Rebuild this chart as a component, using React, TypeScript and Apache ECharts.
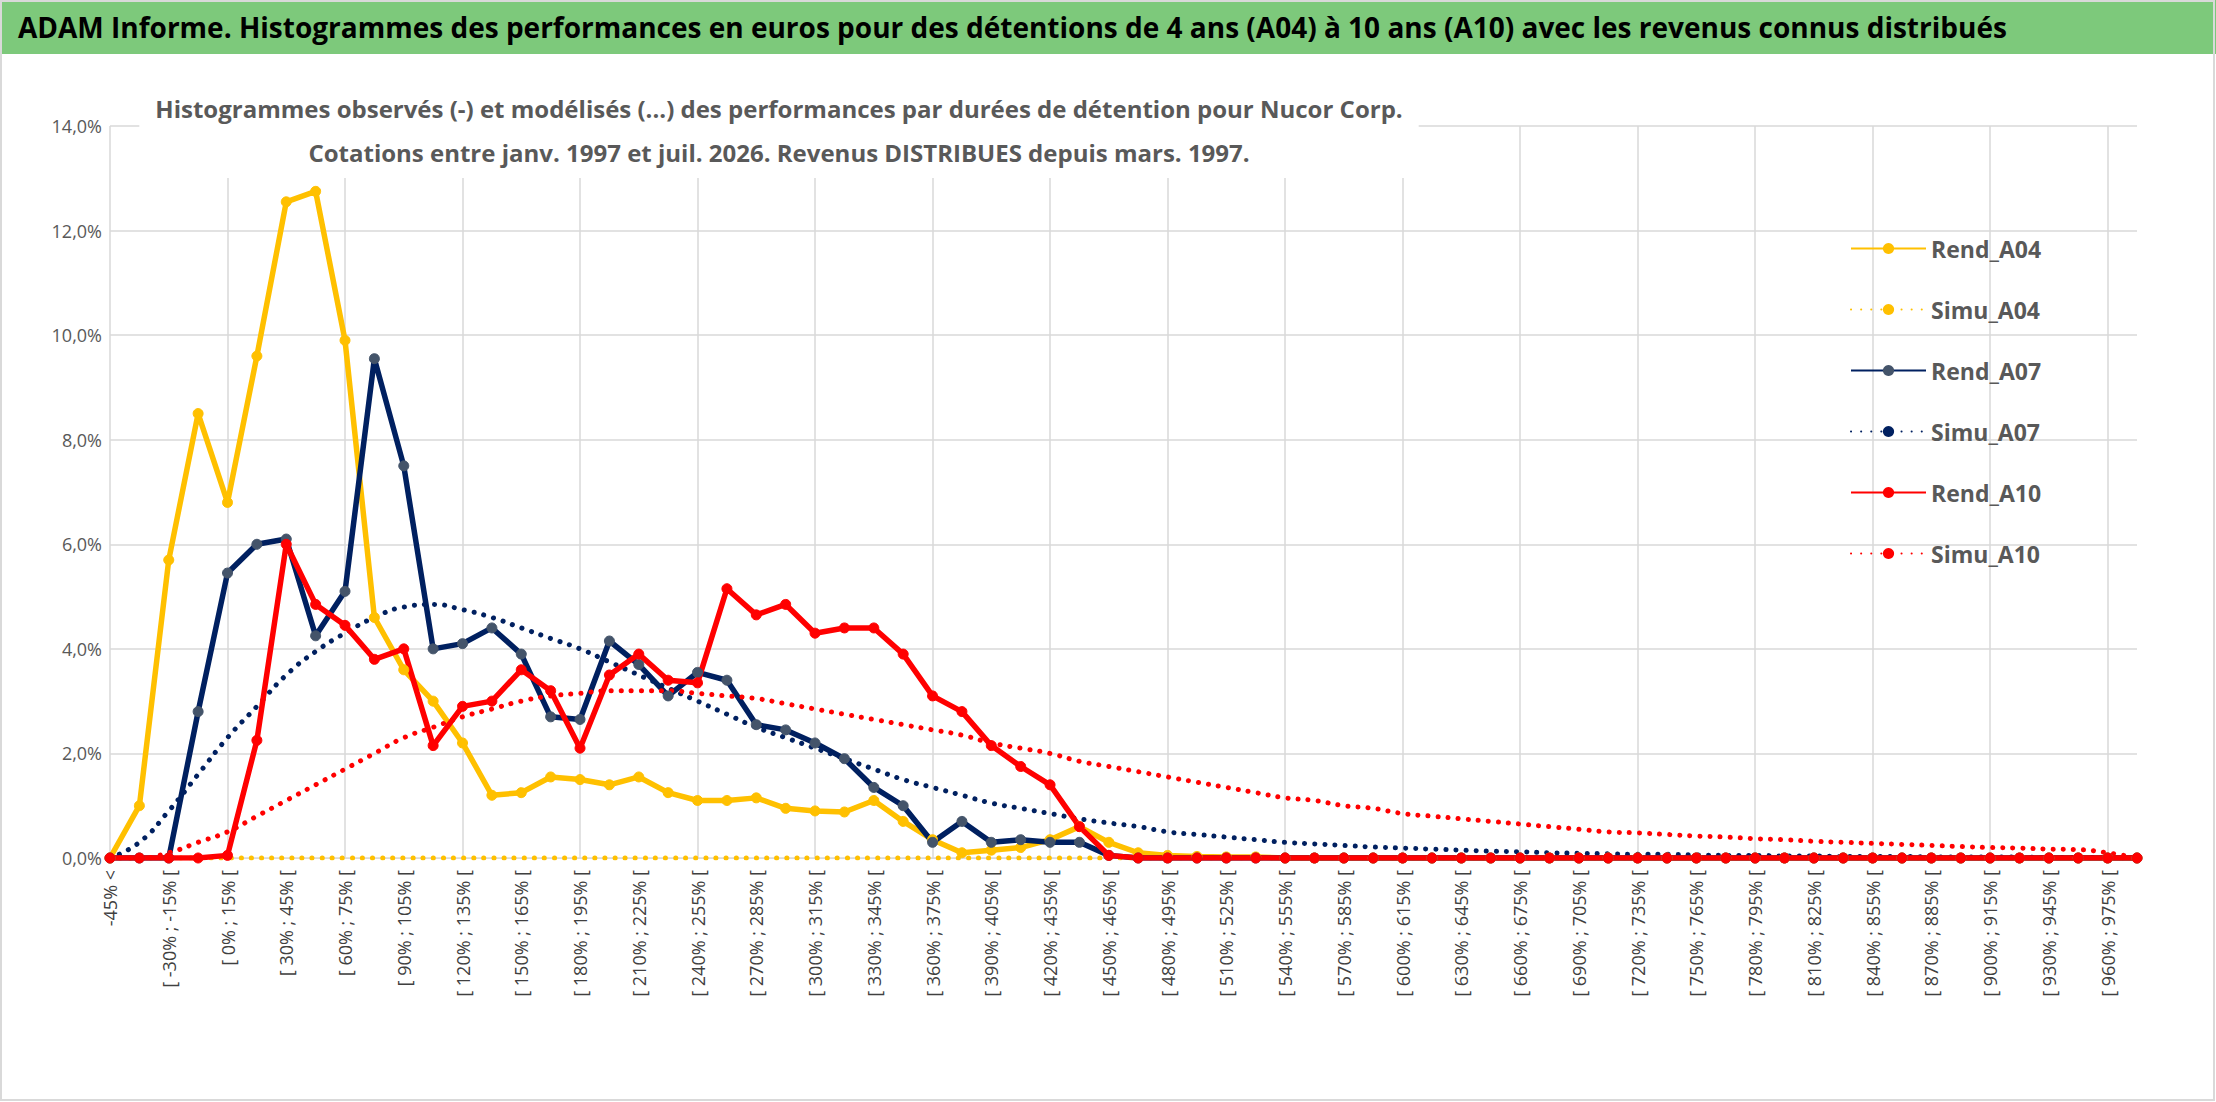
import React, { useEffect, useRef } from 'react';
import * as echarts from 'echarts';

// Catégories : "-45% <" puis tranches de 15 %
const categories: string[] = ['-45% <'];
for (let a = -45; a <= 975; a += 15) categories.push(`[ ${a}% ; ${a + 15}% [`);

// Valeurs (en %)
const rendA04 = [0, 1.0, 5.7, 8.5, 6.8, 9.6, 12.55, 12.75, 9.9, 4.6, 3.6, 3.0, 2.2, 1.2, 1.25, 1.55, 1.5, 1.4, 1.55, 1.25,
  1.1, 1.1, 1.15, 0.95, 0.9, 0.88, 1.1, 0.7, 0.35, 0.1, 0.15, 0.2, 0.35, 0.6, 0.3, 0.1, 0.05, 0.03, 0.02, 0.02,
  0, 0, 0, 0, 0, 0, 0, 0, 0, 0, 0, 0, 0, 0, 0, 0, 0, 0, 0, 0, 0, 0, 0, 0, 0, 0, 0, 0, 0, 0];
const simuA04 = [0, 0, 0, 0, 0, 0, 0, 0, 0, 0, 0, 0, 0, 0, 0, 0, 0, 0, 0, 0, 0, 0, 0, 0, 0, 0, 0, 0, 0, 0, 0, 0, 0, 0,
  0, 0, 0, 0, 0, 0, 0, 0, 0, 0, 0, 0, 0, 0, 0, 0, 0, 0, 0, 0, 0, 0, 0, 0, 0, 0, 0, 0, 0, 0, 0, 0, 0, 0, 0, 0];
const rendA07 = [0, 0, 0, 2.8, 5.45, 6.0, 6.1, 4.25, 5.1, 9.55, 7.5, 4.0, 4.1, 4.4, 3.9, 2.7, 2.65, 4.15, 3.7, 3.1,
  3.55, 3.4, 2.55, 2.45, 2.2, 1.9, 1.35, 1.0, 0.3, 0.7, 0.3, 0.35, 0.3, 0.3, 0.05, 0, 0, 0, 0, 0,
  0, 0, 0, 0, 0, 0, 0, 0, 0, 0, 0, 0, 0, 0, 0, 0, 0, 0, 0, 0, 0, 0, 0, 0, 0, 0, 0, 0, 0, 0];
const simuA07 = [0, 0.3, 0.9, 1.6, 2.3, 2.9, 3.5, 3.95, 4.3, 4.6, 4.8, 4.85, 4.75, 4.6, 4.4, 4.2, 4.0, 3.75, 3.5, 3.25,
  3.0, 2.75, 2.5, 2.3, 2.1, 1.9, 1.7, 1.5, 1.35, 1.2, 1.05, 0.95, 0.85, 0.75, 0.67, 0.6, 0.5, 0.45, 0.4, 0.35,
  0.3, 0.27, 0.24, 0.21, 0.19, 0.17, 0.15, 0.13, 0.12, 0.1, 0.09, 0.08, 0.07, 0.07, 0.06, 0.05, 0.05, 0.04, 0.04, 0.03,
  0.03, 0.03, 0.02, 0.02, 0.02, 0.02, 0.01, 0.01, 0.01, 0];
const rendA10 = [0, 0, 0, 0, 0.05, 2.25, 6.0, 4.85, 4.45, 3.8, 4.0, 2.15, 2.9, 3.0, 3.6, 3.2, 2.1, 3.5, 3.9, 3.4,
  3.35, 5.15, 4.65, 4.85, 4.3, 4.4, 4.4, 3.9, 3.1, 2.8, 2.15, 1.75, 1.4, 0.6, 0.05, 0, 0, 0, 0, 0,
  0, 0, 0, 0, 0, 0, 0, 0, 0, 0, 0, 0, 0, 0, 0, 0, 0, 0, 0, 0, 0, 0, 0, 0, 0, 0, 0, 0, 0, 0];
const simuA10 = [0, 0, 0.1, 0.3, 0.5, 0.8, 1.1, 1.4, 1.7, 2.0, 2.3, 2.5, 2.7, 2.85, 3.0, 3.1, 3.15, 3.2, 3.2, 3.2,
  3.15, 3.1, 3.05, 2.95, 2.85, 2.75, 2.65, 2.55, 2.45, 2.35, 2.2, 2.1, 2.0, 1.85, 1.75, 1.65, 1.55, 1.45, 1.35, 1.25,
  1.15, 1.1, 1.0, 0.95, 0.85, 0.8, 0.75, 0.7, 0.65, 0.6, 0.55, 0.5, 0.48, 0.45, 0.42, 0.4, 0.37, 0.35, 0.32, 0.3,
  0.28, 0.26, 0.24, 0.22, 0.2, 0.19, 0.17, 0.16, 0.1, 0];

const YELLOW = '#FFC000';
const NAVY = '#002060';
const RED = '#FF0000';

const solid = (name: string, data: number[], color: string, marker: string) => ({
  name, type: 'line', data, symbol: 'circle', symbolSize: 10,
  itemStyle: { color: marker, borderColor: marker },
  lineStyle: { color, width: 5.5 },
});
const dotted = (name: string, data: number[], color: string) => ({
  name, type: 'line', data, symbol: 'none', smooth: true,
  itemStyle: { color },
  lineStyle: { color, width: 5, type: [0.1, 10], cap: 'round' },
});

const App = () => {
  const chartRef = useRef<HTMLDivElement>(null);

  useEffect(() => {
    const chart = echarts.init(chartRef.current, null, { renderer: 'svg' });
    chart.setOption({
      animation: false,
      backgroundColor: '#fff',
      textStyle: { fontFamily: '"Open Sans", "Liberation Sans", sans-serif' },
      title: {
        text: 'Histogrammes observés (-) et modélisés (...) des performances par durées de détention pour Nucor Corp.\nCotations entre janv. 1997 et juil. 2026. Revenus DISTRIBUES depuis mars. 1997.',
        left: 763, top: 82, textAlign: 'center',
        backgroundColor: '#fff', padding: [4, 16],
        textStyle: { fontSize: 24, fontWeight: 'bold', color: '#595959', lineHeight: 44 },
      },
      graphic: [
        { type: 'rect', shape: { x: 0, y: 0, width: 2216, height: 54 }, style: { fill: '#7DC97B' } },
        {
          type: 'text', x: 18, y: 27,
          style: {
            text: 'ADAM Informe. Histogrammes des performances en euros pour des détentions de 4 ans (A04) à 10 ans (A10) avec les revenus connus distribués',
            fill: '#000', fontSize: 28, fontWeight: 'bold', verticalAlign: 'middle',
            fontFamily: '"Open Sans", "Liberation Sans", sans-serif',
          },
        },
        { type: 'rect', shape: { x: 1, y: 1, width: 2213, height: 1099 }, style: { fill: 'none', stroke: '#d9d9d9', lineWidth: 2 } },
      ],
      legend: {
        orient: 'vertical', left: 1845, top: 232, itemGap: 38, itemWidth: 75, itemHeight: 14,
        textStyle: { fontSize: 23, fontWeight: 'bold', color: '#595959' },
        data: ['Rend_A04', 'Simu_A04', 'Rend_A07', 'Simu_A07', 'Rend_A10', 'Simu_A10'],
      },
      grid: { left: 110, right: 79, top: 126, bottom: 244 },
      xAxis: {
        type: 'category', data: categories, boundaryGap: false,
        axisLine: { lineStyle: { color: '#d9d9d9' } },
        axisTick: { show: false },
        axisLabel: { rotate: 90, interval: 1, fontSize: 18, color: '#404040', margin: 12 },
        splitLine: { show: true, interval: 3, lineStyle: { color: '#d9d9d9', width: 1.5 } },
      },
      yAxis: {
        type: 'value', min: 0, max: 14, interval: 2,
        axisLabel: { fontSize: 18, color: '#595959', formatter: (v: number) => v.toFixed(1).replace('.', ',') + '%' },
        splitLine: { lineStyle: { color: '#d9d9d9', width: 1.5 } },
      },
      series: [
        solid('Rend_A04', rendA04, YELLOW, YELLOW),
        dotted('Simu_A04', simuA04, YELLOW),
        solid('Rend_A07', rendA07, NAVY, '#44546A'),
        dotted('Simu_A07', simuA07, NAVY),
        solid('Rend_A10', rendA10, RED, RED),
        dotted('Simu_A10', simuA10, RED),
      ],
    });
    return () => chart.dispose();
  }, []);

  return <div ref={chartRef} style={{ position: 'absolute', left: 0, top: 0, width: 2216, height: 1102 }} />;
};

export default App;
